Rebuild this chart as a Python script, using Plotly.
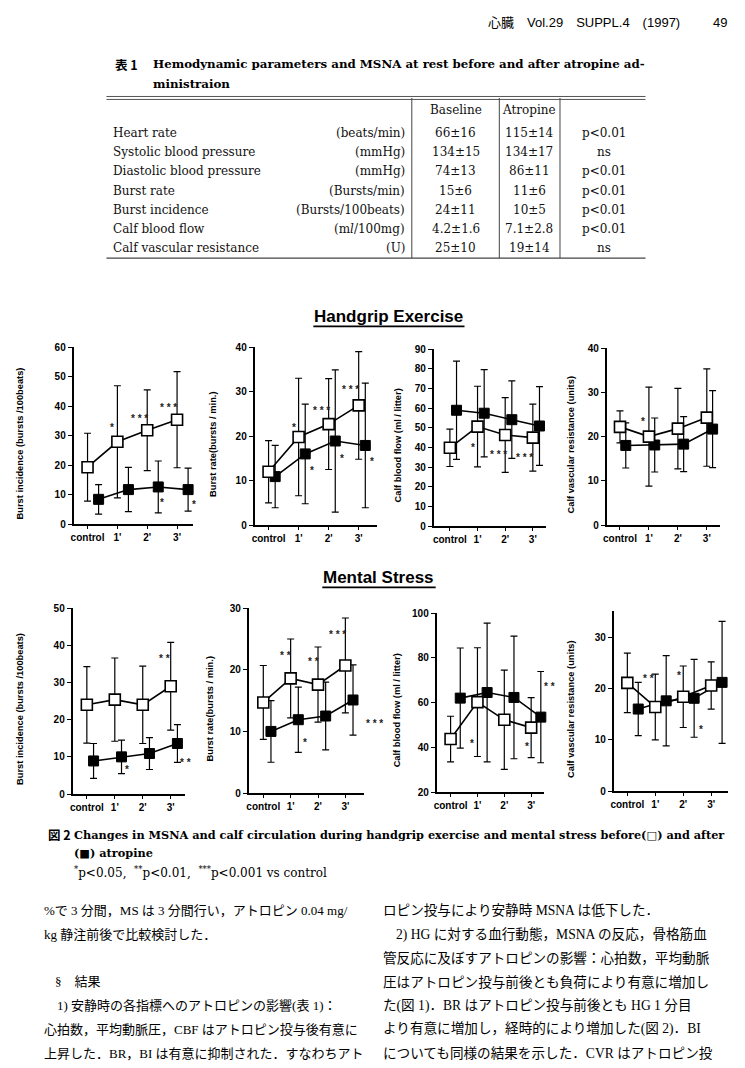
import plotly.graph_objects as go

W, H = 745, 1068

# ---------------- data ----------------
categories = ["control", "1'", "2'", "3'"]

# Handgrip exercise (base = before atropine, atro = after atropine)
hg_bi_base = [19.3, 27.9, 31.8, 35.4]
hg_bi_base_sd = [11.5, 19.0, 13.7, 16.3]
hg_bi_atro = [8.4, 11.7, 12.6, 11.7]
hg_bi_atro_sd = [5.0, 7.5, 8.8, 7.3]

hg_br_base = [12.0, 19.8, 22.7, 26.9]
hg_br_base_sd = [7.0, 13.2, 10.2, 12.1]
hg_br_atro = [10.9, 16.0, 18.9, 17.9]
hg_br_atro_sd = [7.0, 11.2, 16.0, 14.0]

hg_cbf_base = [39.8, 50.6, 46.3, 45.0]
hg_cbf_base_sd = [9.5, 20.5, 19.0, 17.0]
hg_cbf_atro = [58.9, 57.4, 54.1, 50.9]
hg_cbf_atro_sd = [25.0, 22.2, 19.7, 20.0]

hg_cvr_base = [22.2, 20.0, 21.8, 24.3]
hg_cvr_base_sd = [3.6, 11.2, 9.1, 11.0]
hg_cvr_atro = [18.0, 18.1, 18.3, 21.7]
hg_cvr_atro_sd = [5.1, 6.1, 6.2, 8.7]

# Mental stress
ms_bi_base = [24.0, 25.4, 24.0, 29.0]
ms_bi_base_sd = [10.3, 11.2, 10.4, 11.8]
ms_bi_atro = [8.9, 10.0, 10.9, 13.6]
ms_bi_atro_sd = [4.7, 4.5, 4.3, 5.1]

ms_br_base = [14.7, 18.6, 17.6, 20.7]
ms_br_base_sd = [6.0, 6.4, 6.1, 7.7]
ms_br_atro = [10.0, 11.9, 12.5, 15.1]
ms_br_atro_sd = [5.0, 5.3, 5.5, 5.7]

ms_cbf_base = [43.7, 60.2, 52.3, 48.8]
ms_cbf_base_sd = [10.2, 24.3, 22.2, 13.4]
ms_cbf_atro = [62.0, 64.5, 62.3, 53.5]
ms_cbf_atro_sd = [22.4, 31.0, 27.4, 20.4]

ms_cvr_base = [21.1, 16.4, 18.4, 20.6]
ms_cvr_base_sd = [5.8, 6.4, 6.0, 4.6]
ms_cvr_atro = [16.0, 17.6, 18.1, 21.2]
ms_cvr_atro_sd = [5.2, 8.8, 7.6, 11.9]

y_titles = ["Burst incidence (bursts /100beats)", "Burst rate(bursts / min.)",
            "Calf blood flow (ml / litter)", "Calf vascular resistance (units)"]

# significance marks (category position, value, text)
hg_bi_stars = [(0.81, 32.7, "*"), (1.73, 35.9, "* * *"), (2.72, 39.7, "* * *"), (2.51, 7.4, "*"), (3.56, 6.8, "*")]
hg_br_stars = [(0.85, 22.0, "*"), (1.77, 25.8, "* * *"), (2.73, 30.4, "* * *"), (1.43, 12.2, "*"), (2.45, 15.0, "*"), (3.44, 14.2, "*")]
hg_cbf_stars = [(0.84, 40.0, "*"), (1.74, 36.2, "* * *"), (2.70, 34.9, "* * *")]
hg_cvr_stars = [(0.79, 23.5, "*")]
ms_bi_stars = [(2.79, 36.5, "* *"), (1.45, 6.7, "*"), (3.54, 8.6, "* *")]
ms_br_stars = [(0.80, 22.3, "* *"), (1.82, 21.3, "* *"), (2.70, 25.7, "* * *"), (1.53, 8.2, "*"), (4.07, 11.3, "* * *")]
ms_cbf_stars = [(0.78, 41.8, "*"), (2.84, 40.2, "*"), (3.68, 67.1, "* *")]
ms_cvr_stars = [(0.77, 22.0, "* *"), (1.84, 22.6, "*"), (2.63, 12.1, "*")]

# Table 1
table_params = ["Heart rate", "Systolic blood pressure", "Diastolic blood pressure", "Burst rate",
                "Burst incidence", "Calf blood flow", "Calf vascular resistance"]
table_units = ["(beats/min)", "(mmHg)", "(mmHg)", "(Bursts/min)", "(Bursts/100beats)", "(m<i>l</i>/100mg)", "(U)"]
table_baseline = ["66±16", "134±15", "74±13", "15±6", "24±11", "4.2±1.6", "25±10"]
table_atropine = ["115±14", "134±17", "86±11", "11±6", "10±5", "7.1±2.8", "19±14"]
table_p = ["p<0.01", "ns", "p<0.01", "p<0.01", "p<0.01", "p<0.01", "ns"]

# ---------------- layout helpers ----------------
def fx(p):
    return p / W


def fy(p):
    return 1 - p / H


SANS = "Liberation Sans, Arial, Noto Sans CJK JP, sans-serif"
SERIF = "DejaVu Serif, Noto Sans CJK JP, serif"
JP = "Liberation Serif, Noto Sans CJK JP, serif"

panels = [
    dict(base=hg_bi_base, bsd=hg_bi_base_sd, atro=hg_bi_atro, asd=hg_bi_atro_sd, yr=(0, 60), dt=10, title=y_titles[0], stars=hg_bi_stars),
    dict(base=hg_br_base, bsd=hg_br_base_sd, atro=hg_br_atro, asd=hg_br_atro_sd, yr=(0, 40), dt=10, title=y_titles[1], stars=hg_br_stars),
    dict(base=hg_cbf_base, bsd=hg_cbf_base_sd, atro=hg_cbf_atro, asd=hg_cbf_atro_sd, yr=(0, 90), dt=10, title=y_titles[2], stars=hg_cbf_stars),
    dict(base=hg_cvr_base, bsd=hg_cvr_base_sd, atro=hg_cvr_atro, asd=hg_cvr_atro_sd, yr=(0, 40), dt=10, title=y_titles[3], stars=hg_cvr_stars),
    dict(base=ms_bi_base, bsd=ms_bi_base_sd, atro=ms_bi_atro, asd=ms_bi_atro_sd, yr=(0, 50), dt=10, title=y_titles[0], stars=ms_bi_stars),
    dict(base=ms_br_base, bsd=ms_br_base_sd, atro=ms_br_atro, asd=ms_br_atro_sd, yr=(0, 30), dt=10, title=y_titles[1], stars=ms_br_stars),
    dict(base=ms_cbf_base, bsd=ms_cbf_base_sd, atro=ms_cbf_atro, asd=ms_cbf_atro_sd, yr=(20, 100), dt=20, title=y_titles[2], stars=ms_cbf_stars),
    dict(base=ms_cvr_base, bsd=ms_cvr_base_sd, atro=ms_cvr_atro, asd=ms_cvr_atro_sd, yr=(0, 35.1), dt=10, title=y_titles[3], stars=ms_cvr_stars),
]

# pixel boxes: x0, x1, ytop, ybottom, first-category px, category spacing px, atropine offset, title x px
boxes = [
    (70, 190, 345, 524, 84.0, 30.0, 0.37, 16),
    (252, 375, 345, 525, 266.0, 30.2, 0.22, 210),
    (432, 545, 347, 526, 448.3, 27.8, 0.24, 396),
    (606, 720, 346, 525, 619.3, 29.1, 0.20, 570),
    (69, 182, 609, 797, 83.3, 28.1, 0.24, 16),
    (246, 362, 609, 796, 260.7, 27.5, 0.28, 207),
    (435, 543, 614, 795, 449.0, 27.0, 0.36, 396),
    (613, 728, 612, 794, 626.7, 28.1, 0.39, 570),
]

fig = go.Figure()
annotations = []
shapes = []
layout_axes = {}

idx = list(range(len(categories)))

for i, (pn, bx) in enumerate(zip(panels, boxes), start=1):
    x0, x1, yt, yb, c, s, off, tx = bx
    xa = "x" if i == 1 else f"x{i}"
    ya = "y" if i == 1 else f"y{i}"
    xr = [(x0 - c) / s, (x1 - c) / s]
    # after atropine (filled squares)
    fig.add_trace(go.Scatter(
        x=[k + off for k in idx], y=pn["atro"], xaxis=xa, yaxis=ya, mode="lines+markers",
        line=dict(color="black", width=1.6),
        marker=dict(symbol="square", size=10, color="black", line=dict(color="black", width=1)),
        error_y=dict(type="data", array=pn["asd"], visible=True, color="black", thickness=1.2, width=3.5),
        cliponaxis=False, showlegend=False))
    # before atropine (open squares)
    fig.add_trace(go.Scatter(
        x=idx, y=pn["base"], xaxis=xa, yaxis=ya, mode="lines+markers",
        line=dict(color="black", width=1.6),
        marker=dict(symbol="square", size=11, color="white", line=dict(color="black", width=1.6)),
        error_y=dict(type="data", array=pn["bsd"], visible=True, color="black", thickness=1.2, width=3.5),
        cliponaxis=False, showlegend=False))

    key = "" if i == 1 else str(i)
    layout_axes["xaxis" + key] = dict(
        domain=[fx(x0), fx(x1)], anchor=ya, range=xr, tickvals=idx, ticktext=categories,
        showline=True, linecolor="black", linewidth=1.8, ticks="outside", ticklen=3, tickwidth=1.2,
        tickcolor="black", showgrid=False, zeroline=False,
        tickfont=dict(family=SANS, size=10, color="black", weight="bold"))
    layout_axes["yaxis" + key] = dict(
        domain=[fy(yb), fy(yt)], anchor=xa, range=list(pn["yr"]), dtick=pn["dt"], tick0=pn["yr"][0],
        showline=True, linecolor="black", linewidth=1.8, ticks="outside", ticklen=4, tickwidth=1.4,
        tickcolor="black", showgrid=False, zeroline=False,
        tickfont=dict(family=SANS, size=10, color="black", weight="bold"))

    annotations.append(dict(
        x=fx(tx), y=fy((yt + yb) / 2 + 8), xref="paper", yref="paper", text=pn["title"],
        textangle=-90, showarrow=False, xanchor="center", yanchor="middle",
        font=dict(family=SANS, size=9.3, color="black", weight="bold")))

    ymin, ymax = pn["yr"]
    for (sx, sy, st) in pn["stars"]:
        pxx = c + sx * s
        pyy = yb - (sy - ymin) / (ymax - ymin) * (yb - yt)
        annotations.append(dict(
            x=fx(pxx), y=fy(pyy), xref="paper", yref="paper", text=st, showarrow=False,
            xanchor="center", yanchor="middle",
            font=dict(family=SANS, size=10, color="#222", weight="bold")))

# ---------------- section titles ----------------
for txt, cx, cy, uw in [("Handgrip Exercise", 387, 314, 152), ("Mental Stress", 377, 578, 114)]:
    annotations.append(dict(x=fx(cx), y=fy(cy), xref="paper", yref="paper", text=txt,
                            showarrow=False, xanchor="center", yanchor="middle",
                            font=dict(family=SANS, size=17, color="black", weight="bold")))
    shapes.append(dict(type="line", xref="paper", yref="paper", x0=fx(cx - uw / 2), x1=fx(cx + uw / 2),
                       y0=fy(cy + 10), y1=fy(cy + 10), line=dict(color="black", width=1.6)))

# ---------------- page header ----------------
annotations.append(dict(x=fx(485), y=fy(17), xref="paper", yref="paper",
                        text="心臓　Vol.29　SUPPL.4　(1997)", showarrow=False,
                        xanchor="left", yanchor="middle",
                        font=dict(family="Liberation Sans, Noto Sans CJK JP", size=13, color="black")))
annotations.append(dict(x=fx(729), y=fy(17), xref="paper", yref="paper", text="49", showarrow=False,
                        xanchor="right", yanchor="middle",
                        font=dict(family="Liberation Sans", size=13, color="black")))

# ---------------- table 1 ----------------
annotations.append(dict(x=fx(110), y=fy(59), xref="paper", yref="paper", text="表 1", showarrow=False,
                        xanchor="left", yanchor="middle",
                        font=dict(family="Noto Sans CJK JP", size=12.5, color="black", weight="bold")))
annotations.append(dict(x=fx(148), y=fy(59), xref="paper", yref="paper",
                        text="Hemodynamic parameters and MSNA at rest before and after atropine ad-",
                        showarrow=False, xanchor="left", yanchor="middle",
                        font=dict(family=SERIF, size=11.8, color="black", weight="bold")))
annotations.append(dict(x=fx(148), y=fy(79), xref="paper", yref="paper", text="ministraion",
                        showarrow=False, xanchor="left", yanchor="middle",
                        font=dict(family=SERIF, size=11.8, color="black", weight="bold")))

TL, TR, TT, TB = 103, 645, 93, 255
shapes.append(dict(type="line", xref="paper", yref="paper", x0=fx(TL), x1=fx(TR), y0=fy(TT - 1.5), y1=fy(TT - 1.5),
                   line=dict(color="#555", width=1)))
shapes.append(dict(type="line", xref="paper", yref="paper", x0=fx(TL), x1=fx(TR), y0=fy(TT + 1.5), y1=fy(TT + 1.5),
                   line=dict(color="#555", width=1)))
shapes.append(dict(type="line", xref="paper", yref="paper", x0=fx(TL), x1=fx(TR), y0=fy(TB), y1=fy(TB),
                   line=dict(color="#444", width=1.2)))
for vx in (410, 498, 559):
    shapes.append(dict(type="line", xref="paper", yref="paper", x0=fx(vx), x1=fx(vx), y0=fy(TT), y1=fy(TB),
                       line=dict(color="#444", width=1)))

tfont = dict(family=SERIF, size=12, color="#111")
annotations.append(dict(x=fx(454), y=fy(105), xref="paper", yref="paper", text="Baseline", showarrow=False,
                        xanchor="center", yanchor="middle", font=tfont))
annotations.append(dict(x=fx(528), y=fy(105), xref="paper", yref="paper", text="Atropine", showarrow=False,
                        xanchor="center", yanchor="middle", font=tfont))
row_y0, row_dy = 128.5, 19.4
for r, (pname, unit, b, a, p) in enumerate(zip(table_params, table_units, table_baseline, table_atropine, table_p)):
    yy = fy(row_y0 + r * row_dy)
    annotations += [
        dict(x=fx(108), y=yy, xref="paper", yref="paper", text=pname, showarrow=False, xanchor="left", yanchor="middle", font=tfont),
        dict(x=fx(405), y=yy, xref="paper", yref="paper", text=unit, showarrow=False, xanchor="right", yanchor="middle", font=tfont),
        dict(x=fx(454), y=yy, xref="paper", yref="paper", text=b, showarrow=False, xanchor="center", yanchor="middle", font=tfont),
        dict(x=fx(528), y=yy, xref="paper", yref="paper", text=a, showarrow=False, xanchor="center", yanchor="middle", font=tfont),
        dict(x=fx(603), y=yy, xref="paper", yref="paper", text=p, showarrow=False, xanchor="center", yanchor="middle", font=tfont),
    ]

# ---------------- figure caption ----------------
cfont = dict(family=SERIF, size=11.3, color="black", weight="bold")
annotations.append(dict(x=fx(42), y=fy(838), xref="paper", yref="paper", text="図 2",
                        showarrow=False, xanchor="left", yanchor="middle",
                        font=dict(family="Noto Sans CJK JP", size=12.5, color="black", weight="bold")))
annotations.append(dict(x=fx(68), y=fy(838), xref="paper", yref="paper",
                        text="Changes in MSNA and calf circulation during handgrip exercise and mental stress before(□) and after",
                        showarrow=False, xanchor="left", yanchor="middle", font=cfont))
annotations.append(dict(x=fx(68), y=fy(857), xref="paper", yref="paper", text="(■) atropine",
                        showarrow=False, xanchor="left", yanchor="middle", font=cfont))
annotations.append(dict(x=fx(68), y=fy(876), xref="paper", yref="paper",
                        text="<sup>*</sup>p<0.05,  <sup>**</sup>p<0.01,  <sup>***</sup>p<0.001 vs control",
                        showarrow=False, xanchor="left", yanchor="middle",
                        font=dict(family=SERIF, size=12, color="black")))

# ---------------- body text ----------------
left_lines = [
    (38, 0, "%で 3 分間，MS は 3 分間行い，アトロピン 0.04 mg/"),
    (38, 1, "kg 静注前後で比較検討した．"),
    (49, 3, "§　結果"),
    (51, 4, "1) 安静時の各指標へのアトロピンの影響(表 1)："),
    (38, 5, "心拍数，平均動脈圧，CBF はアトロピン投与後有意に"),
    (38, 6, "上昇した．BR，BI は有意に抑制された．すなわちアト"),
]
right_lines = [
    (379, 0, "ロピン投与により安静時 MSNA は低下した．"),
    (392, 1, "2) HG に対する血行動態，MSNA の反応，骨格筋血"),
    (379, 2, "管反応に及ぼすアトロピンの影響：心拍数，平均動脈"),
    (379, 3, "圧はアトロピン投与前後とも負荷により有意に増加し"),
    (379, 4, "た(図 1)．BR はアトロピン投与前後とも HG 1 分目"),
    (379, 5, "より有意に増加し，経時的により増加した(図 2)．BI"),
    (379, 6, "についても同様の結果を示した．CVR はアトロピン投"),
]
for (lx, li, txt) in left_lines:
    annotations.append(dict(x=fx(lx), y=fy(915 + li * 24.0), xref="paper", yref="paper", text=txt,
                            showarrow=False, xanchor="left", yanchor="middle",
                            font=dict(family=JP, size=13.0, color="black")))
for (lx, li, txt) in right_lines:
    annotations.append(dict(x=fx(lx), y=fy(915 + li * 24.0), xref="paper", yref="paper", text=txt,
                            showarrow=False, xanchor="left", yanchor="middle",
                            font=dict(family=JP, size=13.6, color="black")))

fig.update_layout(
    width=W, height=H, margin=dict(l=0, r=0, t=0, b=0),
    paper_bgcolor="white", plot_bgcolor="white", showlegend=False,
    annotations=annotations, shapes=shapes, **layout_axes)

fig.write_html("out.html", config={"displayModeBar": False},
               post_script="document.body.style.margin='0';document.body.style.padding='0';"
                           "document.documentElement.style.overflow='hidden';")
